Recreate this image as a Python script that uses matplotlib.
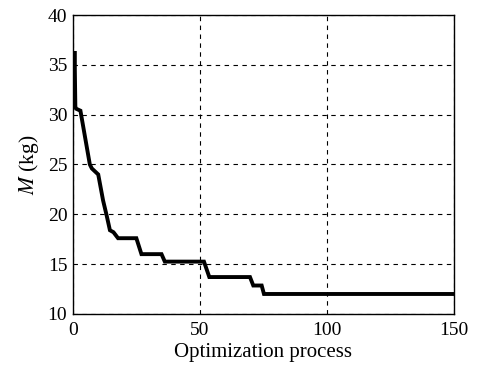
import matplotlib.pyplot as plt

# optimization history
step = [0.8, 0.8, 1.0, 1.3, 3, 6.7, 7.5, 10, 11.9, 13.3, 14.6, 16, 17.8, 25, 27, 34.9, 36.2,
        51.6, 53.7, 69.7, 71, 74.3, 75.2, 150]
mass = [36.2, 34.5, 30.8, 30.6, 30.4, 25.0, 24.6, 24.0, 21.4, 19.9, 18.4, 18.2, 17.6, 17.6,
        16.0, 16.0, 15.25, 15.25, 13.7, 13.7, 12.85, 12.85, 12.0, 12.0]

plt.rcParams['font.family'] = ['Liberation Serif', 'DejaVu Serif']
plt.rcParams['mathtext.fontset'] = 'stix'

fig = plt.figure(figsize=(4.79, 3.68), dpi=100)
ax = fig.add_axes([0.152, 0.147, 0.796, 0.812])

ax.plot(step, mass, color='black', lw=2.8, solid_joinstyle='miter')

ax.set_xlim(0, 150)
ax.set_ylim(10, 40)
ax.set_xticks([0, 50, 100, 150])
ax.set_yticks([10, 15, 20, 25, 30, 35, 40])
ax.grid(True, color='black', ls=(0, (4, 4)), lw=0.8)
ax.tick_params(direction='in', length=0, labelsize=14)
ax.tick_params(axis='x', pad=6)
ax.tick_params(axis='y', pad=4)
for s in ax.spines.values():
    s.set_linewidth(1.0)

ax.set_xlabel("Optimization process", fontsize=15, labelpad=3)
ax.set_ylabel(r"$M$ (kg)", fontsize=15.5, labelpad=5)

fig.savefig("out.png", dpi=100)
